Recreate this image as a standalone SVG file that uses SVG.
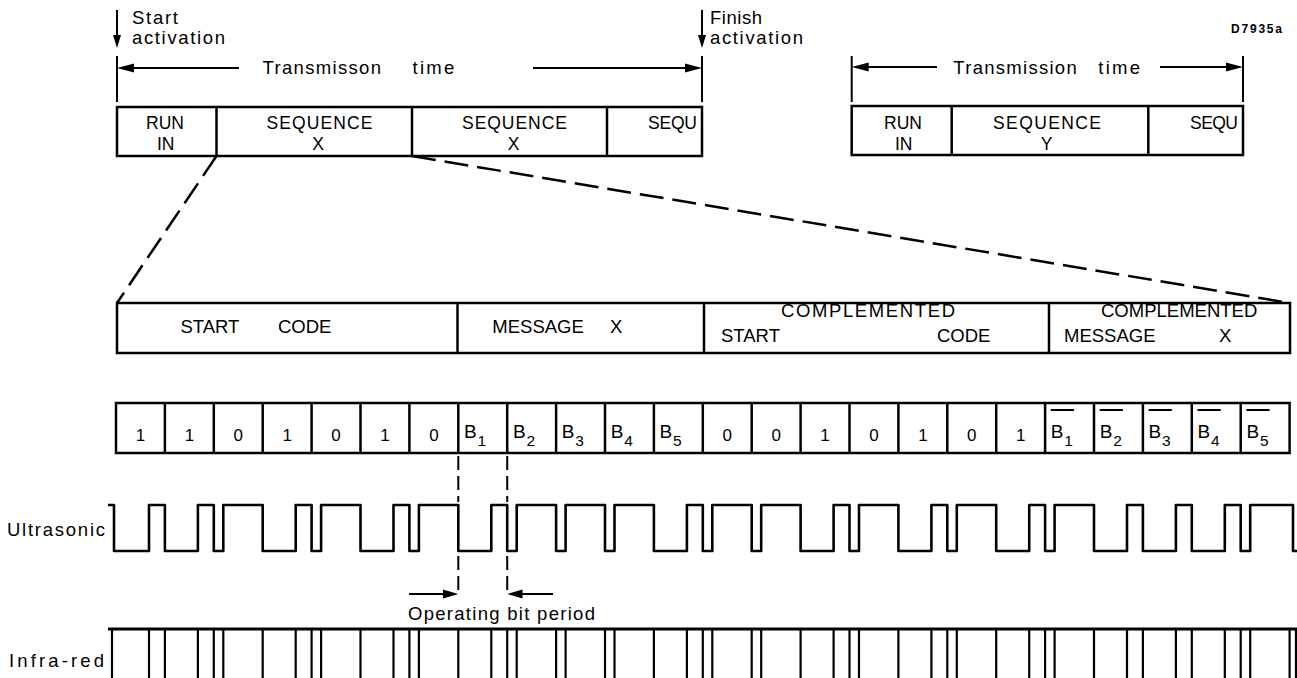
<svg xmlns="http://www.w3.org/2000/svg" width="1297" height="678" viewBox="0 0 1297 678">
<style>
.t{font-family:"Liberation Sans",Arial,sans-serif;font-size:18.5px;fill:#000}
.c{font-family:"Liberation Sans",Arial,sans-serif;font-size:17.5px;fill:#000}
.d{font-family:"Liberation Sans",Arial,sans-serif;font-size:17px;fill:#000;text-anchor:middle}
.b{font-family:"Liberation Sans",Arial,sans-serif;font-size:19px;fill:#000}
.s{font-family:"Liberation Sans",Arial,sans-serif;font-size:15.5px;fill:#000}
.box{fill:none;stroke:#000;stroke-width:2.5}
.ln{fill:none;stroke:#000;stroke-width:2}
.dash{fill:none;stroke:#000;stroke-width:2.5;stroke-dasharray:24,9}
.vd{fill:none;stroke:#000;stroke-width:2;stroke-dasharray:14,6}
.wave{fill:none;stroke:#000;stroke-width:2.6;stroke-linejoin:round}
.pulse{stroke:#000;stroke-width:2.2}
.ah{fill:#000}
</style>
<rect width="1297" height="678" fill="#fff"/>

<g id="start-activation">
<line class="ln" x1="117" y1="10" x2="117" y2="38"/>
<polygon class="ah" points="117,48 113,35 121,35"/>
<text class="t" x="132" y="24" textLength="46">Start</text>
<text class="t" x="132" y="44" textLength="93">activation</text>
</g>
<g id="finish-activation">
<line class="ln" x1="702" y1="10" x2="702" y2="38"/>
<polygon class="ah" points="702,48 698,35 706,35"/>
<text class="t" x="710" y="24" textLength="52">Finish</text>
<text class="t" x="710" y="44" textLength="93">activation</text>
</g>
<g id="transmission-time-1">
<line class="ln" x1="117" y1="56" x2="117" y2="102"/>
<line class="ln" x1="702" y1="56" x2="702" y2="102"/>
<line class="ln" x1="125" y1="68" x2="239" y2="68"/>
<polygon class="ah" points="117,68 134,63.5 134,72.5"/>
<line class="ln" x1="533" y1="68" x2="694" y2="68"/>
<polygon class="ah" points="702,68 685,63.5 685,72.5"/>
<text class="t" x="262.5" y="74" textLength="118.5">Transmisson</text>
<text class="t" x="412.6" y="74" textLength="41.6">time</text>
</g>
<g id="sequence-bar-1">
<rect class="box" x="117" y="107" width="585" height="49"/>
<line class="box" x1="216.5" y1="107" x2="216.5" y2="156"/>
<line class="box" x1="412" y1="107" x2="412" y2="156"/>
<line class="box" x1="607" y1="107" x2="607" y2="156"/>
<text class="c" x="146" y="129">RUN</text>
<text class="c" x="157" y="150">IN</text>
<text class="c" x="266.4" y="129" textLength="106">SEQUENCE</text>
<text class="c" x="318" y="150" text-anchor="middle">X</text>
<text class="c" x="462" y="129" textLength="105">SEQUENCE</text>
<text class="c" x="513.5" y="150" text-anchor="middle">X</text>
<text class="c" x="648" y="129" textLength="49">SEQU</text>
</g>

<g id="label-d7935a">
<text x="1231" y="33" textLength="51" style="font-family:'Liberation Sans',Arial,sans-serif;font-size:12px;font-weight:bold">D7935a</text>
</g>
<g id="transmission-time-2">
<line class="ln" x1="851.7" y1="56" x2="851.7" y2="102"/>
<line class="ln" x1="1243" y1="56" x2="1243" y2="102"/>
<line class="ln" x1="860" y1="67" x2="937" y2="67"/>
<polygon class="ah" points="851.7,67 868.7,62.5 868.7,71.5"/>
<line class="ln" x1="1160" y1="67" x2="1235" y2="67"/>
<polygon class="ah" points="1243,67 1226,62.5 1226,71.5"/>
<text class="t" x="953.3" y="74" textLength="123.4">Transmission</text>
<text class="t" x="1098.3" y="74" textLength="41.7">time</text>
</g>
<g id="sequence-bar-2">
<rect class="box" x="851.7" y="106" width="391.3" height="49"/>
<line class="box" x1="951.7" y1="106" x2="951.7" y2="155"/>
<line class="box" x1="1148.3" y1="106" x2="1148.3" y2="155"/>
<text class="c" x="884" y="129">RUN</text>
<text class="c" x="895" y="150">IN</text>
<text class="c" x="993" y="129" textLength="108">SEQUENCE</text>
<text class="c" x="1046.7" y="150" text-anchor="middle">Y</text>
<text class="c" x="1190" y="129" textLength="48">SEQU</text>
</g>

<g id="connectors">
<line class="dash" x1="216.5" y1="156" x2="117" y2="303"/>
<line class="dash" x1="412" y1="156" x2="1290" y2="303"/>
<line class="vd" x1="458.3" y1="456" x2="458.3" y2="502"/>
<line class="vd" x1="507.2" y1="456" x2="507.2" y2="502"/>
<line class="vd" x1="458.3" y1="556" x2="458.3" y2="596"/>
<line class="vd" x1="507.2" y1="556" x2="507.2" y2="596"/>
<line class="ln" x1="409" y1="594" x2="446" y2="594"/>
<polygon class="ah" points="458.3,594 443,589.5 443,598.5"/>
<line class="ln" x1="553" y1="594" x2="519" y2="594"/>
<polygon class="ah" points="507.2,594 522.5,589.5 522.5,598.5"/>
</g>

<g id="code-bar">
<rect class="box" x="117" y="303" width="1173" height="50"/>
<line class="box" x1="457.5" y1="303" x2="457.5" y2="353"/>
<line class="box" x1="704" y1="303" x2="704" y2="353"/>
<line class="box" x1="1049" y1="303" x2="1049" y2="353"/>
<text class="t" x="180.4" y="333">START</text>
<text class="t" x="278" y="333">CODE</text>
<text class="t" x="492.3" y="333">MESSAGE</text>
<text class="t" x="610" y="333">X</text>
<text class="t" x="781" y="317" textLength="174">COMPLEMENTED</text>
<text class="t" x="721" y="342">START</text>
<text class="t" x="937" y="342">CODE</text>
<text class="t" x="1101" y="317">COMPLEMENTED</text>
<text class="t" x="1064" y="342">MESSAGE</text>
<text class="t" x="1219" y="342">X</text>
</g>

<g id="bit-row">
<rect class="box" x="116" y="403" width="1173.6" height="50"/>
<path class="box" d="M164.9,403V453M213.8,403V453M262.7,403V453M311.6,403V453M360.5,403V453M409.4,403V453M458.3,403V453M507.2,403V453M556.1,403V453M605,403V453M653.9,403V453M702.8,403V453M751.7,403V453M800.6,403V453M849.5,403V453M898.4,403V453M947.3,403V453M996.2,403V453M1045.1,403V453M1094,403V453M1142.9,403V453M1191.8,403V453M1240.7,403V453"/>
<text class="d" x="140.5" y="441">1</text>
<text class="d" x="189.4" y="441">1</text>
<text class="d" x="238.3" y="441">0</text>
<text class="d" x="287.2" y="441">1</text>
<text class="d" x="336.1" y="441">0</text>
<text class="d" x="385" y="441">1</text>
<text class="d" x="433.9" y="441">0</text>
<text class="b" x="464" y="438">B</text><text class="s" x="477.5" y="446">1</text>
<text class="b" x="512.9" y="438">B</text><text class="s" x="526.4" y="446">2</text>
<text class="b" x="561.8" y="438">B</text><text class="s" x="575.3" y="446">3</text>
<text class="b" x="610.7" y="438">B</text><text class="s" x="624.2" y="446">4</text>
<text class="b" x="659.6" y="438">B</text><text class="s" x="673.1" y="446">5</text>
<text class="d" x="727.3" y="441">0</text>
<text class="d" x="776.2" y="441">0</text>
<text class="d" x="825.1" y="441">1</text>
<text class="d" x="874" y="441">0</text>
<text class="d" x="922.9" y="441">1</text>
<text class="d" x="971.8" y="441">0</text>
<text class="d" x="1020.7" y="441">1</text>
<text class="b" x="1050.8" y="438">B</text><text class="s" x="1064.3" y="446">1</text>
<text class="b" x="1099.7" y="438">B</text><text class="s" x="1113.2" y="446">2</text>
<text class="b" x="1148.6" y="438">B</text><text class="s" x="1162.1" y="446">3</text>
<text class="b" x="1197.5" y="438">B</text><text class="s" x="1211" y="446">4</text>
<text class="b" x="1246.4" y="438">B</text><text class="s" x="1259.9" y="446">5</text>
<path class="ln" d="M1050.8,410H1074M1099.7,410H1122.9M1148.6,410H1171.8M1197.5,410H1220.7M1246.4,410H1269.6"/>
</g>

<g id="ultrasonic">
<text class="t" x="7" y="536" textLength="98">Ultrasonic</text>
<path class="wave" d="M108,505H114V551H149V505H164.9V551H197.9V505H213.8V551H223.3V505H262.7V551H295.7V505H311.6V551H321.1V505H360.5V551H393.5V505H409.4V551H418.9V505H458.3V551H491.3V505H507.2V551H516.7V505H556.1V551H565.6V505H605V551H614.5V505H653.9V551H686.9V505H702.8V551H712.3V505H751.7V551H761.2V505H800.6V551H833.6V505H849.5V551H859V505H898.4V551H931.4V505H947.3V551H956.8V505H996.2V551H1029.2V505H1045.1V551H1054.6V505H1094V551H1127V505H1142.9V551H1175.9V505H1191.8V551H1224.8V505H1240.7V551H1250.2V505H1293V551H1297"/>
</g>

<g id="operating-bit-period">
<text class="t" x="408" y="620" textLength="187">Operating bit period</text>
</g>

<g id="infra-red">
<text class="t" x="9" y="667" textLength="95">Infra-red</text>
<line x1="108" y1="629" x2="1297" y2="629" stroke="#000" stroke-width="3"/>
<path class="pulse" d="M112,629V678M149,629V678M164.9,629V678M197.9,629V678M213.8,629V678M223.3,629V678M262.7,629V678M295.7,629V678M311.6,629V678M321.1,629V678M360.5,629V678M393.5,629V678M409.4,629V678M418.9,629V678M458.3,629V678M491.3,629V678M507.2,629V678M516.7,629V678M556.1,629V678M565.6,629V678M605,629V678M614.5,629V678M653.9,629V678M686.9,629V678M702.8,629V678M712.3,629V678M751.7,629V678M761.2,629V678M800.6,629V678M833.6,629V678M849.5,629V678M859,629V678M898.4,629V678M931.4,629V678M947.3,629V678M956.8,629V678M996.2,629V678M1029.2,629V678M1045.1,629V678M1054.6,629V678M1094,629V678M1127,629V678M1142.9,629V678M1175.9,629V678M1191.8,629V678M1224.8,629V678M1240.7,629V678M1250.2,629V678M1289.6,629V678M1296,629V678"/>
</g>
</svg>
